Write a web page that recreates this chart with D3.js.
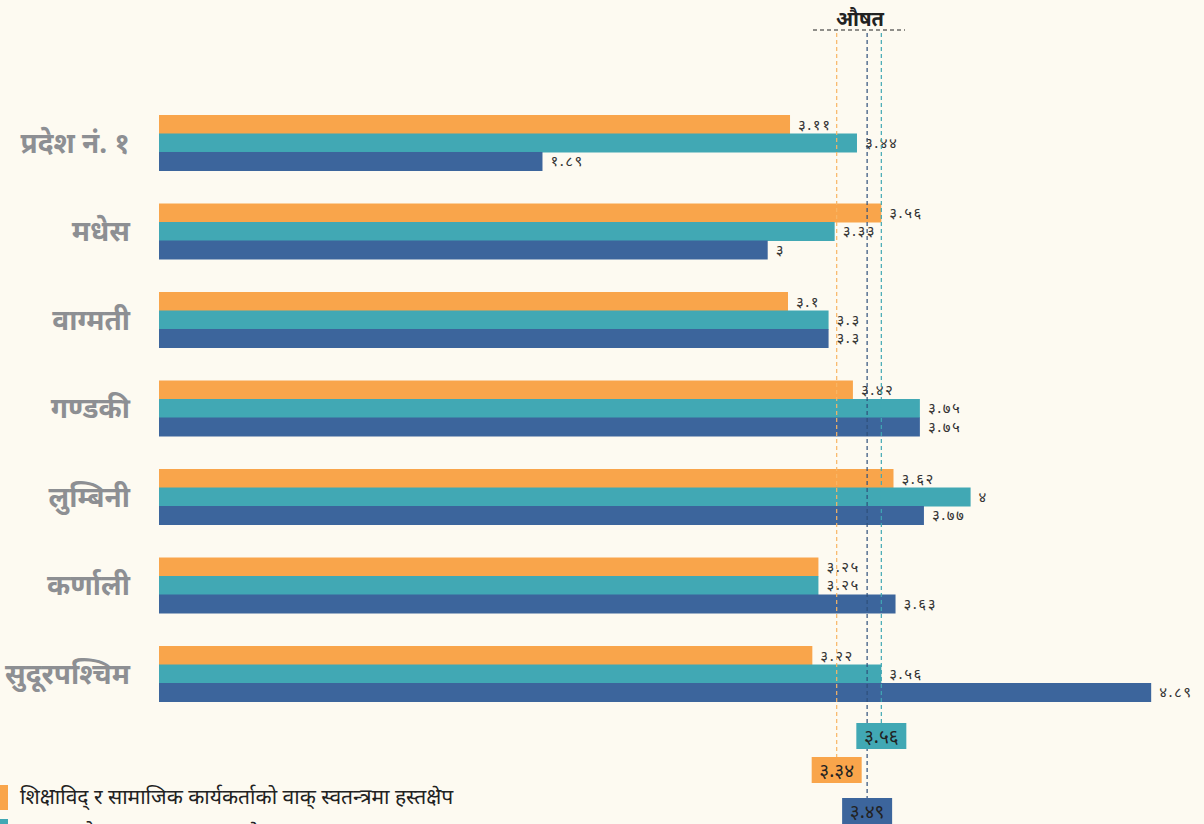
<!DOCTYPE html>
<html>
<head>
<meta charset="utf-8">
<script src="https://cdn.jsdelivr.net/npm/d3@7"></script>
<style>
  html, body { margin: 0; padding: 0; background: #fdfaf1; }
  svg { display: block; font-family: "Noto Sans", "DejaVu Sans", sans-serif; }
  .cat { fill: #8d8f93; font-size: 28px; font-weight: bold; }
  .val { fill: #333; font-size: 15px; letter-spacing: 1.5px; }
</style>
</head>
<body>
<svg id="plot" width="1204" height="824"></svg>
<script>
'use strict';

const provinces = ['प्रदेश नं. १', 'मधेस', 'वाग्मती', 'गण्डकी', 'लुम्बिनी', 'कर्णाली', 'सुदूरपश्चिम'];
const seriesNames = [
    'शिक्षाविद् र सामाजिक कार्यकर्ताको वाक् स्वतन्त्रमा हस्तक्षेप',
    'पत्रकारको वाक् स्वतन्त्रमा हस्तक्षेप',
    'आम नागरिकको वाक् स्वतन्त्रमा हस्तक्षेप'
];
const academicValues = [3.11, 3.56, 3.1, 3.42, 3.62, 3.25, 3.22];
const journalistValues = [3.44, 3.33, 3.3, 3.75, 4, 3.25, 3.56];
const citizenValues = [1.89, 3, 3.3, 3.75, 3.77, 3.63, 4.89];
const averages = [3.34, 3.56, 3.49];
const colors = ['#f9a54b', '#41a8b4', '#3c659c'];

const width = 1204;
const height = 824;

const devDigits = '०१२३४५६७८९';
function toNepali(n) {
    return String(n).replace(/[0-9]/g, d => devDigits[+d]);
}

const svg = d3.select('#plot');
svg.append('rect').attr('width', width).attr('height', height).attr('fill', '#fdfaf1');

const x = d3.scaleLinear().domain([0, 5]).range([159, 159 + 5 * 202.9]);
const y = d3.scaleBand().domain(provinces).range([115, 701.5]).paddingInner(0.373).paddingOuter(0);
const ySub = d3.scaleBand().domain([0, 1, 2]).range([0, y.bandwidth()]);

const allSeries = [academicValues, journalistValues, citizenValues];

const groups = svg.selectAll('g.prov')
    .data(provinces)
    .enter()
    .append('g')
    .attr('class', 'prov')
    .attr('transform', d => `translate(0, ${y(d)})`);

groups.append('text')
    .attr('class', 'cat')
    .attr('x', 130)
    .attr('y', y.bandwidth() / 2)
    .attr('dy', '0.35em')
    .attr('text-anchor', 'end')
    .text(d => d);

groups.each(function (prov, pi) {
    const g = d3.select(this);
    allSeries.forEach((vals, si) => {
        g.append('rect')
            .attr('x', x(0))
            .attr('y', ySub(si))
            .attr('width', x(vals[pi]) - x(0))
            .attr('height', ySub.bandwidth() + 0.5)
            .attr('fill', colors[si]);
        g.append('text')
            .attr('class', 'val')
            .attr('x', x(vals[pi]) + 8)
            .attr('y', ySub(si) + ySub.bandwidth() / 2)
            .attr('dy', '0.35em')
            .text(toNepali(vals[pi]));
    });
});

// average lines
const lineStyles = [
    { color: '#f9b565', end: 757 },
    { color: '#41a8b4', end: 723 },
    { color: '#2f4f7a', end: 798 }
];
averages.forEach((avg, i) => {
    svg.append('line')
        .attr('x1', x(avg)).attr('x2', x(avg))
        .attr('y1', 33).attr('y2', lineStyles[i].end)
        .attr('stroke', lineStyles[i].color)
        .attr('stroke-width', 1.2)
        .attr('stroke-dasharray', '4,3');
});

svg.append('line')
    .attr('x1', 813).attr('x2', 905)
    .attr('y1', 30).attr('y2', 30)
    .attr('stroke', '#222')
    .attr('stroke-width', 1)
    .attr('stroke-dasharray', '4,3');

svg.append('text')
    .attr('x', 860)
    .attr('y', 26)
    .attr('text-anchor', 'middle')
    .attr('font-size', 20)
    .attr('font-weight', 'bold')
    .attr('fill', '#222')
    .text('औषत');

// average boxes
const boxTops = [757, 723, 798];
averages.forEach((avg, i) => {
    svg.append('rect')
        .attr('x', x(avg) - 25)
        .attr('y', boxTops[i])
        .attr('width', 50)
        .attr('height', 26)
        .attr('fill', colors[i]);
    svg.append('text')
        .attr('x', x(avg))
        .attr('y', boxTops[i] + 13)
        .attr('dy', '0.35em')
        .attr('text-anchor', 'middle')
        .attr('font-size', 19)
        .attr('fill', '#222')
        .text(toNepali(avg));
});

// legend (lower entries run past the bottom edge, as in the original)
seriesNames.forEach((name, i) => {
    svg.append('rect')
        .attr('x', 0)
        .attr('y', 785 + i * 34)
        .attr('width', 8)
        .attr('height', 25)
        .attr('fill', colors[i]);
    svg.append('text')
        .attr('x', 20)
        .attr('y', 797 + i * 36)
        .attr('dy', '0.35em')
        .attr('font-size', 21)
        .attr('fill', '#222')
        .text(name);
});
</script>
</body>
</html>
